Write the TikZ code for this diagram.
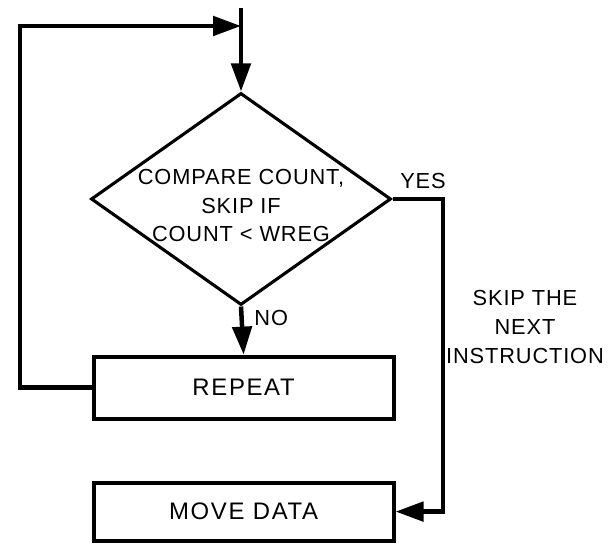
\documentclass[tikz,border=0pt]{standalone}
\usepackage{fontspec}
\setmainfont{Liberation Sans}
\usetikzlibrary{arrows.meta,shapes.geometric}

\begin{document}
\begin{tikzpicture}[>={Triangle[length=0.7cm,width=0.48cm]},
	flow/.style={line width=3.2pt},
	box/.style={draw,line width=2.8pt,minimum width=7.5cm,font=\fontsize{17}{20}\selectfont\addfontfeature{LetterSpace=7}},
	decision/.style={draw,diamond,line width=2.2pt,minimum width=7.5cm,minimum height=5.3cm,inner sep=0pt},
	txt/.style={align=center,font=\fontsize{15.5}{20.4}\selectfont\addfontfeature{LetterSpace=4}}]

\useasboundingbox (0,0) rectangle (15.2,13.6);

\node[decision] (cmp) at (6.025,8.625) {};
\node[txt] (cmptext) at (6.025,8.46) {COMPARE COUNT,\\SKIP IF\\COUNT < WREG};

\node[box,minimum height=1.55cm] (repeat) at (6.09,3.91) {REPEAT};
\node[box,minimum height=1.45cm] (move) at (6.09,0.81) {MOVE DATA};

\coordinate (entry) at (6.025,13.4);
\coordinate (join) at (6.025,12.95);
\coordinate (yesbend) at (11.075,8.625);

\draw[flow,->] (entry) -- (cmp.north);
\draw[flow,->] (repeat.west) -| (0.5,12.95) -- (join);
\draw[flow,->] (cmp.south) -- (repeat.north);
\draw[flow,->] (cmp.east) -- (yesbend) |- (move.east);

\node[txt] (yes) at (10.575,9.075) {YES};
\node[txt] (no) at (6.78,5.65) {NO};
\node[txt] (skip) at (13.125,5.425) {SKIP THE\\NEXT\\INSTRUCTION};

\end{tikzpicture}
\end{document}
